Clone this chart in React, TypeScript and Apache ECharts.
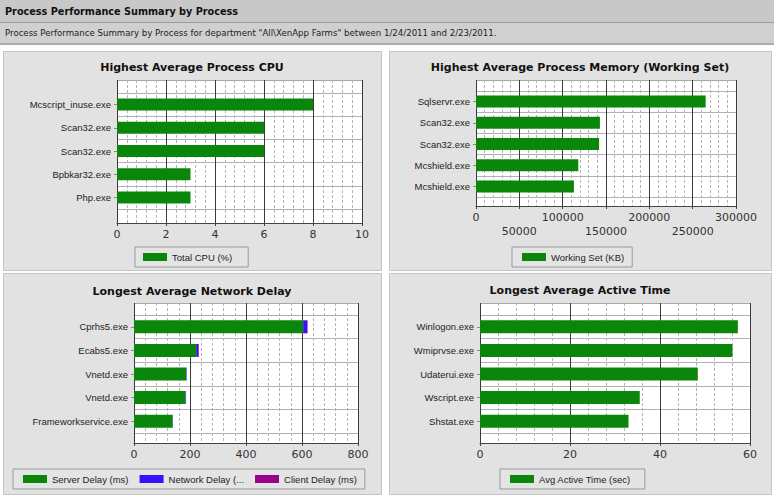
import React, { useEffect, useRef } from "react";
import * as echarts from "echarts";

const cpuCategories = ["Mcscript_inuse.exe", "Scan32.exe", "Scan32.exe", "Bpbkar32.exe", "Php.exe"];
const cpuValues = [8, 6, 6, 3, 3];

const memCategories = ["Sqlservr.exe", "Scan32.exe", "Scan32.exe", "Mcshield.exe", "Mcshield.exe"];
const memValues = [265000, 143000, 142000, 118000, 113000];

const netCategories = ["Cprhs5.exe", "Ecabs5.exe", "Vnetd.exe", "Vnetd.exe", "Frameworkservice.exe"];
const serverDelay = [604, 222, 186, 184, 138];
const networkDelay = [14, 8, 2, 2, 1];
const clientDelay = [2, 2, 0, 0, 0];

const activeCategories = ["Winlogon.exe", "Wmiprvse.exe", "Udaterui.exe", "Wscript.exe", "Shstat.exe"];
const activeValues = [57.3, 56.1, 48.4, 35.5, 33.0];

const headerTitle = "Process Performance Summary by Process";
const headerSubtitle =
  'Process Performance Summary by Process for department "All\\XenApp Farms" between 1/24/2011 and 2/23/2011.';

const GREEN = "#0a870a";
const BLUE = "#3a10f5";
const PURPLE = "#990090";

type PanelCfg = {
  outer: { left: number; top: number; width: number; height: number };
  innerTop: number;
  innerHeight: number;
  max: number;
  interval: number;
  categories: string[];
  stagger?: boolean;
};

const panels: PanelCfg[] = [
  { outer: { left: 117, top: 80, width: 245, height: 143 }, innerTop: 93, innerHeight: 116, max: 10, interval: 2, categories: cpuCategories },
  { outer: { left: 476, top: 80, width: 260, height: 126 }, innerTop: 91, innerHeight: 106, max: 300000, interval: 50000, categories: memCategories, stagger: true },
  { outer: { left: 134, top: 303, width: 224, height: 140 }, innerTop: 315, innerHeight: 118, max: 800, interval: 200, categories: netCategories },
  { outer: { left: 480, top: 303, width: 270, height: 140 }, innerTop: 315, innerHeight: 118, max: 60, interval: 20, categories: activeCategories },
];

export default function App() {
  const ref = useRef<HTMLDivElement>(null);
  useEffect(() => {
    if (!ref.current) return;
    const chart = echarts.init(ref.current, null, { renderer: "svg" });

    const grid: any[] = [];
    const xAxis: any[] = [];
    const yAxis: any[] = [];
    panels.forEach((p, i) => {
      grid.push({
        left: p.outer.left, top: p.outer.top, width: p.outer.width, height: p.outer.height,
        show: false,
      });
      grid.push({
        left: p.outer.left, top: p.innerTop, width: p.outer.width, height: p.innerHeight, show: false,
      });
      xAxis.push({
        type: "value", gridIndex: 2 * i, min: 0, max: p.max, interval: p.interval,
        axisLine: { show: true, lineStyle: { color: "#444", width: 1 } },
        axisTick: { show: true, length: 3, lineStyle: { color: "#444" } },
        axisLabel: {
          fontFamily: "DejaVu Sans", fontSize: 11, color: "#333", margin: 4,
          formatter: p.stagger
            ? (v: number) => (Math.round(v / p.interval) % 2 === 1 ? "\n" + v : String(v))
            : (v: number) => String(v),
          lineHeight: 14,
        },
        splitLine: { show: true, lineStyle: { color: "#3a3a3a", width: 1 } },
        minorTick: { show: false, splitNumber: 5 },
        minorSplitLine: { show: true, lineStyle: { color: "#b4b4b4", type: [3, 2], width: 1 } },
      });
      xAxis.push({ type: "value", gridIndex: 2 * i + 1, min: 0, max: p.max, show: false });
      yAxis.push({ type: "value", gridIndex: 2 * i, min: 0, max: 1, show: false });
      yAxis.push({
        type: "category", gridIndex: 2 * i + 1, data: p.categories, inverse: true,
        axisLine: { show: false },
        axisTick: { show: true, alignWithLabel: true, length: 3, lineStyle: { color: "#888" } },
        axisLabel: { fontFamily: "Liberation Sans", fontSize: 9.5, color: "#222", margin: 6 },
        splitLine: { show: true, lineStyle: { color: "#b0b0b0", width: 1 } },
      });
    });

    const legendBase = {
      orient: "horizontal",
      icon: "rect",
      itemWidth: 24,
      itemHeight: 8,
      itemGap: 11,
      borderColor: "#999",
      borderWidth: 1,
      borderRadius: 0,
      backgroundColor: "#e4e4e4",
      textStyle: { fontFamily: "Liberation Sans", fontSize: 9.5, color: "#222" },
      selectedMode: false,
    };

    const panelRects = [
      { x: 3, y: 51, w: 378, h: 219 },
      { x: 389, y: 51, w: 382, h: 219 },
      { x: 3, y: 273, w: 378, h: 221 },
      { x: 389, y: 273, w: 382, h: 221 },
    ];
    const titles = [
      { t: "Highest Average Process CPU", x: 192, y: 67 },
      { t: "Highest Average Process Memory (Working Set)", x: 580, y: 67 },
      { t: "Longest Average Network Delay", x: 192, y: 291 },
      { t: "Longest Average Active Time", x: 580, y: 290 },
    ];

    const graphic: any[] = [
      { type: "rect", z: -10, shape: { x: 0, y: 0, width: 774, height: 22 }, style: { fill: "#c8c8c8" } },
      { type: "rect", z: -10, shape: { x: 0, y: 22, width: 774, height: 1 }, style: { fill: "#9c9c9c" } },
      { type: "rect", z: -10, shape: { x: 0, y: 23, width: 774, height: 20 }, style: { fill: "#d0d0d0" } },
      { type: "rect", z: -10, shape: { x: 0, y: 43, width: 774, height: 2 }, style: { fill: "#ababab" } },
      {
        type: "text", left: 5, top: 6,
        style: { text: headerTitle, font: "bold 9.7px 'DejaVu Sans'", fill: "#111" },
      },
      {
        type: "text", left: 5, top: 28,
        style: { text: headerSubtitle, font: "8.6px 'DejaVu Sans'", fill: "#222" },
      },
      ...panelRects.map((r) => ({
        type: "rect", z: -10,
        shape: { x: r.x + 0.5, y: r.y + 0.5, width: r.w, height: r.h },
        style: { fill: "#e2e2e2", stroke: "#c4c4c4", lineWidth: 1 },
      })),
      ...panels.map((p) => ({
        type: "rect", z: -10,
        shape: { x: p.outer.left + 0.5, y: p.outer.top + 0.5, width: p.outer.width, height: p.outer.height },
        style: { fill: "#ffffff", stroke: "#a8a8a8", lineWidth: 1 },
      })),
      ...titles.map((t) => ({
        type: "text", x: t.x, y: t.y,
        style: {
          text: t.t, font: "bold 11px 'DejaVu Sans'", fill: "#111",
          textAlign: "center", textVerticalAlign: "middle",
        },
      })),
    ];

    chart.setOption({
      animation: false,
      backgroundColor: "#ffffff",
      grid,
      xAxis,
      yAxis,
      graphic,
      legend: [
        { ...legendBase, left: 135, top: 247, padding: [5, 16, 5, 8], data: ["Total CPU (%)"] },
        { ...legendBase, left: 512, top: 247, padding: [5, 8, 5, 10], data: ["Working Set (KB)"] },
        {
          ...legendBase, left: 13, top: 469, padding: [5, 8, 5, 10],
          data: ["Server Delay (ms)", "Network Delay (ms)", "Client Delay (ms)"],
          formatter: (n: string) => (n === "Network Delay (ms)" ? "Network Delay (..." : n),
        },
        { ...legendBase, left: 500, top: 469, padding: [5, 14, 5, 10], data: ["Avg Active Time (sec)"] },
      ],
      series: [
        { type: "bar", name: "Total CPU (%)", xAxisIndex: 1, yAxisIndex: 1, data: cpuValues, barWidth: 12, itemStyle: { color: GREEN } },
        { type: "bar", name: "Working Set (KB)", xAxisIndex: 3, yAxisIndex: 3, data: memValues, barWidth: 12, itemStyle: { color: GREEN } },
        { type: "bar", name: "Server Delay (ms)", stack: "d", xAxisIndex: 5, yAxisIndex: 5, data: serverDelay, barWidth: 13, itemStyle: { color: GREEN } },
        { type: "bar", name: "Network Delay (ms)", stack: "d", xAxisIndex: 5, yAxisIndex: 5, data: networkDelay, barWidth: 13, itemStyle: { color: BLUE } },
        { type: "bar", name: "Client Delay (ms)", stack: "d", xAxisIndex: 5, yAxisIndex: 5, data: clientDelay, barWidth: 13, itemStyle: { color: PURPLE } },
        { type: "bar", name: "Avg Active Time (sec)", xAxisIndex: 7, yAxisIndex: 7, data: activeValues, barWidth: 13, itemStyle: { color: GREEN } },
      ],
    });
    return () => chart.dispose();
  }, []);
  return <div ref={ref} style={{ position: "absolute", left: 0, top: 0, width: 774, height: 499 }} />;
}
